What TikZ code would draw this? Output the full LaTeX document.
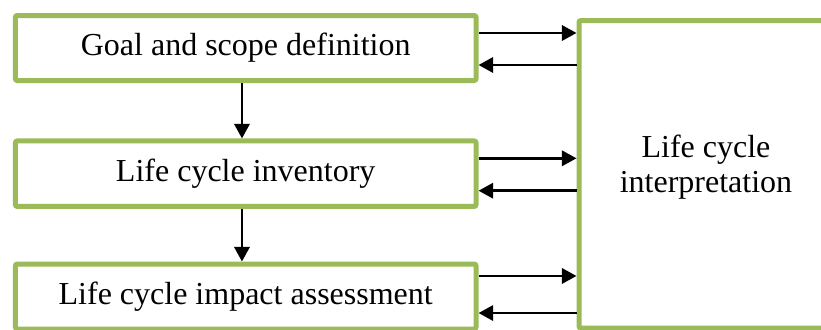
\documentclass[tikz,border=0pt]{standalone}
\usepackage{fontspec}
\setmainfont{Liberation Serif}
\usetikzlibrary{arrows.meta}
\definecolor{olivegreen}{HTML}{9BBB59}
\begin{document}
\begin{tikzpicture}[x=0.75pt,y=-0.75pt,
  box/.style={draw=olivegreen,line width=3.75pt,rounded corners=1.5pt,fill=white,inner sep=0pt,
    font=\fontsize{24}{26.25}\selectfont},
  lbl/.style={align=center,inner sep=0pt,font=\fontsize{24}{26.25}\selectfont},
  arr/.style={line width=2pt,-{Triangle[length=11pt,width=11.5pt]}}]
\useasboundingbox (0,0) rectangle (821,329);
% boxes
\node[box,minimum width=460.7*0.75pt,minimum height=65*0.75pt] (b1) at (245.7,48) {Goal and scope definition};
\node[box,minimum width=460.7*0.75pt,minimum height=65.5*0.75pt] (b2) at (245.7,173.7) {Life cycle inventory};
\node[box,minimum width=460.7*0.75pt,minimum height=65*0.75pt] (b3) at (245.7,296.5) {Life cycle impact assessment};
\node[box,minimum width=254*0.75pt,minimum height=307.5*0.75pt] (r) at (706,174.25) {};
\node[lbl] (rt) at (706,167) {Life cycle\\interpretation};
% horizontal arrows
\path ([yshift=11.25pt]b1.east) coordinate (a1) ([yshift=-12.75pt]b1.east) coordinate (c1);
\path ([yshift=11.55pt]b2.east) coordinate (a2) ([yshift=-12.75pt]b2.east) coordinate (c2);
\path ([yshift=15.4pt]b3.east) coordinate (a3) ([yshift=-12.4pt]b3.east) coordinate (c3);
\draw[arr] (a1) -- (a1 -| r.west);
\draw[arr] (c1 -| r.west) -- (c1);
\draw[arr] (a2) -- (a2 -| r.west);
\draw[arr] (c2 -| r.west) -- (c2);
\draw[arr] (a3) -- (a3 -| r.west);
\draw[arr] (c3 -| r.west) -- (c3);
% vertical arrows
\draw[arr] ([xshift=-2.8pt]b1.south) -- ([xshift=-2.8pt]b1.south |- b2.north);
\draw[arr] ([xshift=-2.8pt]b2.south) -- ([xshift=-2.8pt]b2.south |- b3.north);
\end{tikzpicture}
\end{document}
